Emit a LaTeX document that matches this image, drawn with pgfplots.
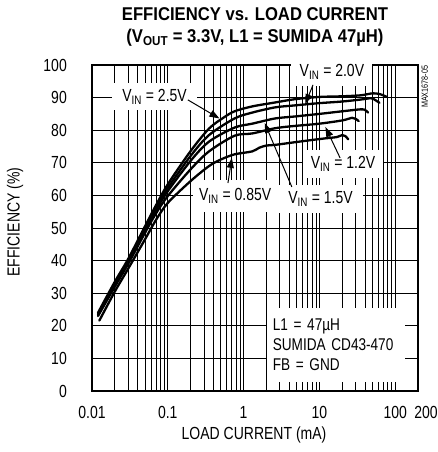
\documentclass[border=0pt]{standalone}
\usepackage{fontspec}
\setmainfont{Liberation Sans}[FakeStretch=0.8]
\newfontfamily\titlefont{Liberation Sans}[FakeStretch=0.9]
\usepackage{pgfplots}
\pgfplotsset{compat=1.18}
\usetikzlibrary{arrows.meta}

\newcommand{\vin}{V\textsubscript{IN}}

\begin{document}
\begin{tikzpicture}
\begin{semilogxaxis}[
  scale only axis, width=326pt, height=326pt,
  xmin=0.01, xmax=200, ymin=0, ymax=100,
  xtick={0.01,0.1,1,10,100}, xticklabels={0.01,0.1,1,10,100},
  extra x ticks={200}, extra x tick labels={200},
  extra x tick style={grid=none, xticklabel style={xshift=8pt}},
  minor xtick={0.02,0.03,0.04,0.05,0.06,0.07,0.08,0.09,0.2,0.3,0.4,0.5,0.6,0.7,0.8,0.9,2,3,4,5,6,7,8,9,20,30,40,50,60,70,80,90},
  ytick={0,10,...,100},
  grid=both,
  major grid style={black, line width=0.8pt},
  minor grid style={black, line width=0.7pt},
  axis line style={line width=2.2pt},
  tick style={draw=none},
  /pgf/number format/assume math mode=true,
  tick label style={font=\fontsize{17.5}{19}\selectfont},
  yticklabel style={inner sep=0pt, anchor=east, xshift=-25pt},
  xticklabel style={inner sep=0pt, anchor=north, yshift=-15pt},
  clip=false,
]
% bounding box of whole picture
\path (rel axis cs:-0.2822,-0.1871) rectangle (rel axis cs:1.0491,1.1994);

% white label boxes
\node[fill=white, inner sep=0pt, minimum width=85pt, minimum height=27pt, font=\fontsize{17.5}{19}\selectfont] at (rel axis cs:0.192,0.903) {\vin{} = 2.5V};
\node[fill=white, inner sep=0pt, minimum width=81pt, minimum height=28pt, font=\fontsize{17.5}{19}\selectfont] at (rel axis cs:0.736,0.979) {\vin{} = 2.0V};
\node[fill=white, inner sep=0pt, minimum width=80pt, minimum height=28pt, font=\fontsize{17.5}{19}\selectfont] at (rel axis cs:0.770,0.696) {\vin{} = 1.2V};
\node[fill=white, inner sep=0pt, minimum width=85pt, minimum height=32pt, font=\fontsize{17.5}{19}\selectfont] at (rel axis cs:0.439,0.598) {\vin{} = 0.85V};
\node[fill=white, inner sep=0pt, minimum width=85pt, minimum height=28pt, font=\fontsize{17.5}{19}\selectfont] at (rel axis cs:0.701,0.589) {\vin{} = 1.5V};
\node[fill=white, inner sep=0pt, minimum width=138pt, minimum height=74pt, font=\fontsize{17}{20}\selectfont, align=left, text width=126pt] at (rel axis cs:0.748,0.141) {L1 = 47µH\\SUMIDA CD43-470\\FB = GND};

% curves
\addplot[black, line width=2.3pt, smooth, line cap=round] coordinates {
(0.012,24) (0.02,33.5) (0.03,40.5) (0.05,50.5) (0.07,57) (0.1,63.4) (0.2,73.6) (0.35,80.5) (0.54,83.8) (0.76,85.8) (1.3,87.3) (2.6,88.5) (4.7,89.5) (10,90.2) (20,90.4) (35,90.7) (50,91.3) (62,91.1) (78,90.2)};
\addplot[black, line width=2.3pt, smooth, line cap=round] coordinates {
(0.012,23.5) (0.02,33) (0.03,40) (0.05,50) (0.07,56.5) (0.1,62.3) (0.2,72.1) (0.35,78.5) (0.76,83.6) (1.3,85.4) (2.6,87) (4.7,87.6) (10,88.3) (20,88.8) (35,89.4) (48,89.8) (55,89.2) (62,88.4)};
\addplot[black, line width=2.3pt, smooth, line cap=round] coordinates {
(0.012,23.3) (0.02,32.5) (0.03,39.5) (0.05,49.5) (0.07,55.5) (0.1,61.3) (0.2,70.6) (0.35,76.5) (0.76,80.8) (1.3,82) (2.6,83.6) (4.7,84.2) (10,85) (20,85.8) (35,86.4) (40,86.2) (44,85.4)};
\addplot[black, line width=2.3pt, smooth, line cap=round] coordinates {
(0.012,23) (0.02,32) (0.03,39) (0.05,48.5) (0.07,54.5) (0.1,59.8) (0.2,68) (0.35,73.5) (0.76,78.3) (1.3,79) (2.6,80.6) (4.7,81.3) (10,82) (20,83) (27,83.8) (30,83.5) (33,82.8)};
\addplot[black, line width=2.3pt, smooth, line cap=round] coordinates {
(0.0125,21.6) (0.02,30.5) (0.03,37.5) (0.05,46.5) (0.07,52.5) (0.1,57.7) (0.2,64.4) (0.35,69) (0.5,71) (0.76,72.6) (1.3,73.5) (1.6,74.6) (2,75.3) (2.6,75.5) (4.7,76.3) (8,77) (12,77.5) (17,77.9) (20,78.5) (22,78.2) (24,77.2)};

% arrows
\draw[line width=1pt, -{Triangle[length=10pt,width=7pt]}] (rel axis cs:0.294,0.893) -- (axis cs:0.48,83.6);
\draw[line width=1pt, -{Triangle[length=10pt,width=7pt]}] (rel axis cs:0.678,0.939) -- (axis cs:6.5,88.0);
\draw[line width=1pt, -{Triangle[length=10pt,width=7pt]}] (rel axis cs:0.761,0.715) -- (axis cs:12,81.0);
\draw[line width=1pt, -{Triangle[length=10pt,width=7pt]}] (rel axis cs:0.417,0.638) -- (axis cs:0.7,71.5);
\draw[line width=1pt, -{Triangle[length=10pt,width=7pt]}] (rel axis cs:0.613,0.626) -- (axis cs:1.9,82.2);

% titles and labels
\node[font=\titlefont\bfseries\fontsize{18.5}{20}\selectfont] at (rel axis cs:0.5,1.156) {EFFICIENCY vs. LOAD CURRENT};
\node[font=\titlefont\bfseries\fontsize{18.5}{20}\selectfont] at (rel axis cs:0.5,1.083) {(V\textsubscript{OUT} = 3.3V, L1 = SUMIDA 47µH)};
\node[font=\fontsize{17.5}{19}\selectfont] at (rel axis cs:0.497,-0.135) {LOAD CURRENT (mA)};
\node[font=\fontsize{17.5}{19}\selectfont, rotate=90] at (rel axis cs:-0.236,0.518) {EFFICIENCY (\%)};
\node[font=\fontsize{9}{10}\selectfont, rotate=90] at (rel axis cs:1.021,0.933) {MAX1678-05};
\end{semilogxaxis}
\end{tikzpicture}
\end{document}
